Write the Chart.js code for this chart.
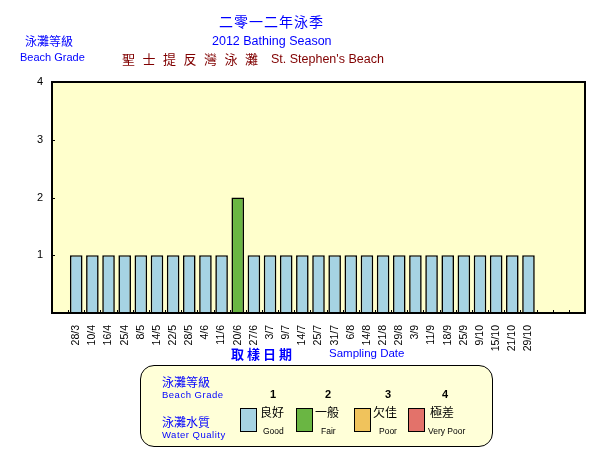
<!DOCTYPE html>
<html>
<head>
<meta charset="utf-8">
<script src="https://cdn.jsdelivr.net/npm/chart.js@4/dist/chart.umd.min.js"></script>
<style>
  body { margin: 0; background: #fff; }
  #wrap { position: relative; width: 602px; height: 452px; overflow: hidden; font-family: "Liberation Sans", Arial, sans-serif; }
  #chart { position: absolute; left: 0; top: 0; }
  .t { position: absolute; white-space: nowrap; line-height: 1; }
  .zh { font-family: "Noto Sans CJK TC", "Noto Sans CJK SC", sans-serif; }
  .blue { color: #0000ff; }
  .red { color: #800000; }
  #legend { position: absolute; left: 140px; top: 365px; width: 351px; height: 80px; border: 1px solid #000; border-radius: 14px; background: #ffffd8; }
  .sw { position: absolute; width: 15px; height: 22px; border: 1px solid #000; }
</style>
</head>
<body>
<div id="wrap">
  <canvas id="chart" width="602" height="452"></canvas>

  <!-- titres -->
  <div class="t zh blue" style="left:219px;top:14px;font-size:14px;letter-spacing:1px;">二零一二年泳季</div>
  <div class="t blue" style="left:212px;top:35px;font-size:12.5px;">2012 Bathing Season</div>
  <div class="t zh red" style="left:122px;top:52px;font-size:13px;letter-spacing:7.5px;">聖士提反灣泳灘</div>
  <div class="t red" style="left:271px;top:53px;font-size:12.5px;">St. Stephen's Beach</div>
  <div class="t zh blue" style="left:25px;top:35px;font-size:12px;">泳灘等級</div>
  <div class="t blue" style="left:20px;top:52px;font-size:11px;">Beach Grade</div>

  <!-- titre axe x -->
  <div class="t zh blue" style="left:231px;top:347px;font-size:13px;font-weight:bold;letter-spacing:3px;">取樣日期</div>
  <div class="t blue" style="left:329px;top:348px;font-size:11.5px;">Sampling Date</div>

  <!-- légende -->
  <div id="legend">
    <div class="t zh blue" style="left:21px;top:10px;font-size:12px;">泳灘等級</div>
    <div class="t blue" style="left:21px;top:24px;font-size:9.5px;letter-spacing:0.5px;">Beach Grade</div>
    <div class="t zh blue" style="left:21px;top:50px;font-size:12px;">泳灘水質</div>
    <div class="t blue" style="left:21px;top:64px;font-size:9.5px;letter-spacing:0.5px;">Water Quality</div>

    <div class="t" style="left:129px;top:23px;font-size:11px;font-weight:bold;">1</div>
    <div class="t" style="left:184px;top:23px;font-size:11px;font-weight:bold;">2</div>
    <div class="t" style="left:244px;top:23px;font-size:11px;font-weight:bold;">3</div>
    <div class="t" style="left:301px;top:23px;font-size:11px;font-weight:bold;">4</div>

    <div class="sw" id="sw0" style="left:99px;top:42px;"></div>
    <div class="sw" id="sw1" style="left:155px;top:42px;"></div>
    <div class="sw" id="sw2" style="left:213px;top:42px;"></div>
    <div class="sw" id="sw3" style="left:267px;top:42px;"></div>

    <div class="t zh" style="left:119px;top:40px;font-size:12px;">良好</div>
    <div class="t zh" style="left:174px;top:40px;font-size:12px;">一般</div>
    <div class="t zh" style="left:232px;top:40px;font-size:12px;">欠佳</div>
    <div class="t zh" style="left:289px;top:40px;font-size:12px;">極差</div>

    <div class="t" style="left:122px;top:61px;font-size:8.5px;">Good</div>
    <div class="t" style="left:180px;top:61px;font-size:8.5px;">Fair</div>
    <div class="t" style="left:238px;top:61px;font-size:8.5px;">Poor</div>
    <div class="t" style="left:287px;top:61px;font-size:8.5px;">Very Poor</div>
  </div>
</div>

<script>
// dates d'échantillonnage
const dates = ["28/3","10/4","16/4","25/4","8/5","14/5","22/5","28/5","4/6","11/6","20/6","27/6","3/7","9/7","14/7","25/7","31/7","6/8","14/8","21/8","29/8","3/9","11/9","18/9","25/9","9/10","15/10","21/10","29/10"];
// note de la plage (1 = bon ... 4 = très mauvais)
const grades = [1,1,1,1,1,1,1,1,1,1,2,1,1,1,1,1,1,1,1,1,1,1,1,1,1,1,1,1,1];
const gradeColors = ["#a6d3e3", "#6ab643", "#f0c35c", "#e3726a"];
const yTicks = [1, 2, 3, 4];

// une case vide au début, trois à la fin
const labels = [""].concat(dates, ["", "", ""]);
const values = [null].concat(grades, [null, null, null]);
const colors = [null].concat(grades.map(g => gradeColors[g - 1]), [null, null, null]);

gradeColors.forEach((c, i) => document.getElementById("sw" + i).style.background = c);

const frame = {
    id: "frame",
    beforeDraw(chart) {
        const a = chart.chartArea, c = chart.ctx;
        c.save();
        c.fillStyle = "#ffffcc";
        c.fillRect(a.left, a.top, a.right - a.left, a.bottom - a.top);
        c.restore();
    },
    afterDraw(chart) {
        const a = chart.chartArea, c = chart.ctx, x = chart.scales.x, y = chart.scales.y;
        c.save();
        c.strokeStyle = "#000";
        c.lineWidth = 1;
        c.beginPath();
        // petits repères vers l'intérieur
        for (let i = 1; i < labels.length; i++) {
            let px = Math.round((x.getPixelForValue(i - 1) + x.getPixelForValue(i)) / 2) + 0.5;
            c.moveTo(px, a.bottom);
            c.lineTo(px, a.bottom - 3);
        }
        yTicks.slice(0, -1).forEach(v => {
            let py = Math.round(y.getPixelForValue(v)) + 0.5;
            c.moveTo(a.left, py);
            c.lineTo(a.left + 3, py);
        });
        c.stroke();
        c.lineWidth = 2;
        c.strokeRect(a.left, a.top, a.right - a.left, a.bottom - a.top);
        c.restore();
    }
};

new Chart(document.getElementById("chart"), {
    type: "bar",
    data: {
        labels: labels,
        datasets: [{
            data: values,
            backgroundColor: colors,
            borderColor: "#000",
            borderWidth: 1.6,
            barPercentage: 0.78,
            categoryPercentage: 1
        }]
    },
    options: {
        responsive: false,
        animation: false,
        events: [],
        layout: { padding: { left: 0, top: 82, right: 17, bottom: 0 } },
        plugins: { legend: { display: false }, tooltip: { enabled: false } },
        scales: {
            x: {
                afterFit(s) { s.height = 139; },
                grid: { display: false },
                border: { display: false },
                ticks: {
                    autoSkip: false, maxRotation: 90, minRotation: 90, padding: 4,
                    color: "#000", font: { family: "Liberation Sans", size: 10.5 }
                }
            },
            y: {
                min: 0, max: 4,
                afterFit(s) { s.width = 52; },
                grid: { display: false },
                border: { display: false },
                ticks: {
                    stepSize: 1, padding: 1, color: "#000",
                    font: { family: "Liberation Sans", size: 11 },
                    callback: v => (yTicks.includes(v) ? v : "")
                }
            }
        }
    },
    plugins: [frame]
});
</script>
</body>
</html>
